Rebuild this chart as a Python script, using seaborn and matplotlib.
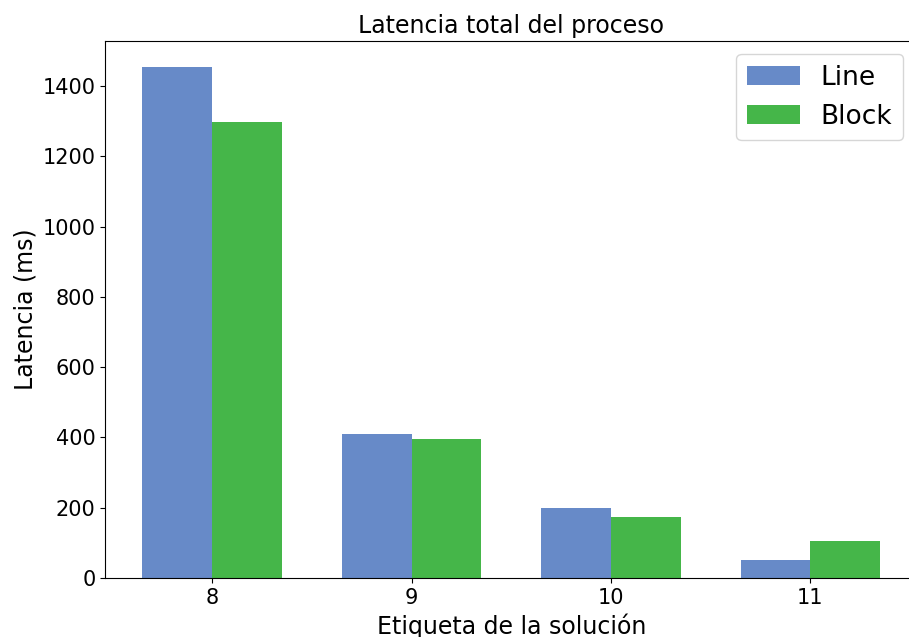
import matplotlib
matplotlib.use("Agg")
import matplotlib.pyplot as plt
import seaborn as sns
import pandas as pd

# Datos de latencia (ms) por etiqueta de solución
etiquetas = ["8", "9", "10", "11"]
latencia_line = [1455, 411, 198, 51]
latencia_block = [1299, 396, 175, 106]
series = ["Line", "Block"]
colores = ["#678ac8", "#45b649"]

df = pd.DataFrame({
    "etiqueta": etiquetas * 2,
    "latencia": latencia_line + latencia_block,
    "serie": [series[0]] * len(etiquetas) + [series[1]] * len(etiquetas),
})

fig, ax = plt.subplots(figsize=(9.09, 6.37), dpi=100)
# el original está recortado: el eje derecho queda fuera de la imagen
fig.subplots_adjust(left=0.1160, right=1.0088, top=0.9356, bottom=0.0926)

sns.barplot(data=df, x="etiqueta", y="latencia", hue="serie", order=etiquetas,
            hue_order=series, palette=colores, width=0.7, saturation=1,
            edgecolor="none", ax=ax)

ax.set_xlim(-0.535, 3.535)
ax.set_ylim(0, 1528)
ax.set_title("Latencia total del proceso", fontsize=17)
ax.set_xlabel("Etiqueta de la solución", fontsize=17)
ax.set_ylabel("Latencia (ms)", fontsize=17)
ax.tick_params(labelsize=15)
ax.legend(fontsize=19, loc="upper right", bbox_to_anchor=(0.999, 1.0005))

plt.savefig("out.png", dpi=100)
